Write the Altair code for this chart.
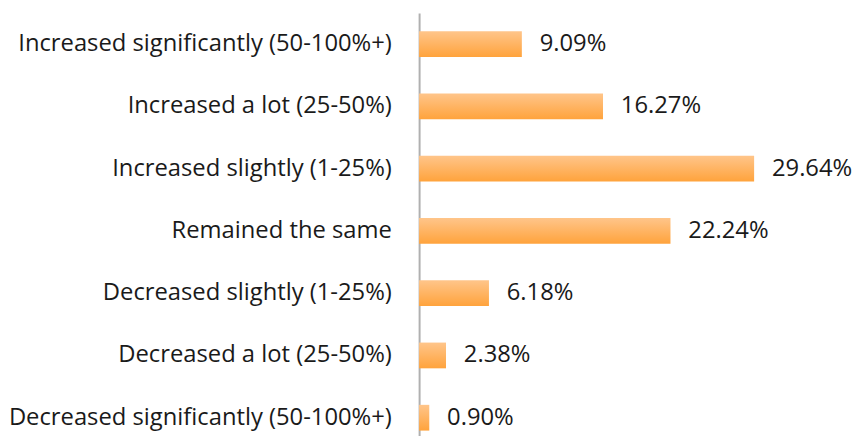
import altair as alt
import pandas as pd

categories = [
    "Increased significantly (50-100%+)",
    "Increased a lot (25-50%)",
    "Increased slightly (1-25%)",
    "Remained the same",
    "Decreased slightly (1-25%)",
    "Decreased a lot (25-50%)",
    "Decreased significantly (50-100%+)",
]
values = [9.09, 16.27, 29.64, 22.24, 6.18, 2.38, 0.90]
labels = ["9.09%", "16.27%", "29.64%", "22.24%", "6.18%", "2.38%", "0.90%"]

df = pd.DataFrame({"cat": categories, "val": values, "lab": labels})

FONT = "Open Sans"

grad = alt.Gradient(
    gradient="linear",
    stops=[alt.GradientStop(color="#FFC58A", offset=0),
           alt.GradientStop(color="#FFA33C", offset=1)],
    x1=0, x2=0, y1=0, y2=1,
)

y = alt.Y("cat:N", sort=categories, title=None,
          scale=alt.Scale(range=[0, 440], paddingInner=0, paddingOuter=0),
          axis=alt.Axis(ticks=False, labelFont=FONT, labelFontSize=24,
                        labelColor="#1a1a1a", labelPadding=28, labelLimit=0,
                        domainColor="#B0B0B0", domainWidth=2, grid=False))
x = alt.X("val:Q", scale=alt.Scale(domain=[0, 38.3]), axis=None)

bars = alt.Chart(df).mark_bar(color=grad, size=26).encode(x=x, y=y)
text = alt.Chart(df).mark_text(align="left", baseline="middle", dx=18,
                               font=FONT, fontSize=24, color="#1a1a1a").encode(
    x=x, y=y, text="lab:N")

chart = (bars + text).properties(
    width=437, height=425,
    autosize=alt.AutoSizeParams(type="none"),
    padding={"left": 415, "top": 3, "right": 0, "bottom": 0},
).configure_view(stroke=None)

chart.save("out.html", embed_options={"renderer": "svg", "actions": False})
